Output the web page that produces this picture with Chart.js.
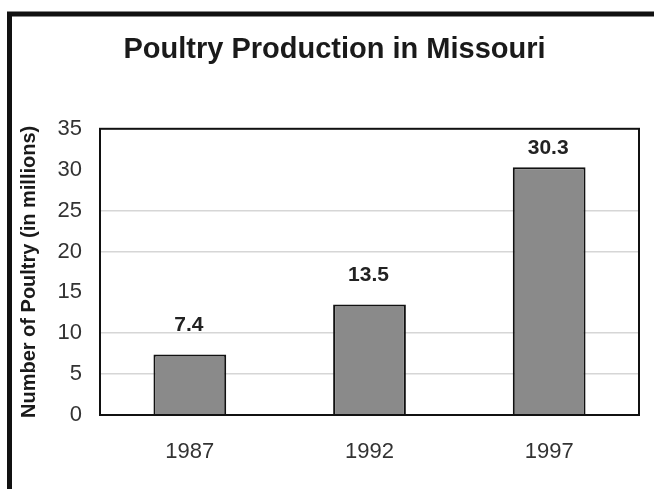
<!DOCTYPE html>
<html>
<head>
<meta charset="utf-8">
<title>Poultry Production in Missouri</title>
<script src="https://cdn.jsdelivr.net/npm/chart.js@4/dist/chart.umd.min.js"></script>
<style>
  html, body { margin: 0; padding: 0; background: #fff; }
  #wrap { width: 654px; height: 489px; position: relative; }
</style>
</head>
<body>
<div id="wrap"><canvas id="chart" width="654" height="489"></canvas></div>
<script>
const years = ["1987", "1992", "1997"];
const poultry = [7.4, 13.5, 30.3];
const yTicks = [0, 5, 10, 15, 20, 25, 30, 35];
// grid lines that show in the scanned original
const shownGrid = [5, 10, 20, 25];

const FONT = "'Liberation Sans', Arial, Helvetica, sans-serif";

// outer frame (left + top edge) and plot border
const framePlugin = {
  id: "frame",
  beforeDraw(chart) {
    const ctx = chart.ctx;
    ctx.save();
    ctx.fillStyle = "#fff";
    ctx.fillRect(0, 0, chart.width, chart.height);
    ctx.strokeStyle = "#111";
    ctx.lineWidth = 5;
    ctx.beginPath();
    ctx.moveTo(9.5, chart.height);
    ctx.lineTo(9.5, 14);
    ctx.lineTo(chart.width, 14);
    ctx.stroke();
    ctx.restore();
  },
  afterDatasetsDraw(chart) {
    const a = chart.chartArea;
    const ctx = chart.ctx;
    ctx.save();
    ctx.strokeStyle = "#111";
    ctx.lineWidth = 2;
    ctx.strokeRect(a.left, a.top, a.right - a.left, a.bottom - a.top);
    ctx.restore();
  }
};

// value labels above bars
const valueLabels = {
  id: "valueLabels",
  afterDatasetsDraw(chart) {
    const ctx = chart.ctx;
    const meta = chart.getDatasetMeta(0);
    const top = chart.chartArea.top;
    ctx.save();
    ctx.font = "bold 21px " + FONT;
    ctx.fillStyle = "#222";
    ctx.textAlign = "center";
    ctx.textBaseline = "middle";
    meta.data.forEach((bar, i) => {
      const y = Math.max(bar.y - 29, top + 19);
      ctx.fillText(poultry[i].toFixed(1), bar.x - 1, y);
    });
    ctx.restore();
  }
};

new Chart(document.getElementById("chart"), {
  type: "bar",
  data: {
    labels: years,
    datasets: [{
      data: poultry,
      backgroundColor: "#8a8a8a",
      borderColor: "#111",
      borderWidth: 2,
      barPercentage: 0.405,
      categoryPercentage: 1.0
    }]
  },
  options: {
    responsive: false,
    animation: false,
    layout: { padding: { left: 30, right: 15, top: 0, bottom: 0 } },
    plugins: {
      legend: { display: false },
      tooltip: { enabled: false },
      title: {
        display: true,
        text: "Poultry Production in Missouri",
        color: "#1a1a1a",
        font: { family: FONT, size: 29, weight: "bold" },
        padding: { top: 33, bottom: 61 }
      }
    },
    scales: {
      x: {
        grid: { display: false, drawTicks: false },
        border: { display: false },
        ticks: { color: "#333", font: { family: FONT, size: 22 }, padding: 24 },
        afterFit(scale) { scale.height = 489 - 415; }
      },
      y: {
        min: 0,
        max: 35,
        afterBuildTicks(scale) { scale.ticks = yTicks.map(v => ({ value: v })); },
        grid: {
          color: ctx => shownGrid.includes(ctx.tick && ctx.tick.value) ? "#d6d6d6" : "rgba(0,0,0,0)",
          lineWidth: 1.5,
          drawTicks: false
        },
        border: { display: false },
        ticks: { color: "#333", font: { family: FONT, size: 22 }, padding: 18 },
        title: {
          display: true,
          text: "Number of Poultry (in millions)",
          color: "#1a1a1a",
          font: { family: FONT, size: 20, weight: "bold" },
          padding: { top: -12.5, bottom: 0 }
        },
        afterFit(scale) { scale.width = 100 - 30; }
      }
    }
  },
  plugins: [framePlugin, valueLabels]
});
</script>
</body>
</html>
